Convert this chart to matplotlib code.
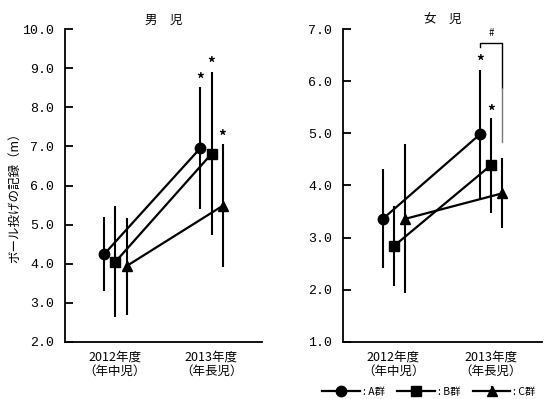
import matplotlib
matplotlib.use("Agg")
import matplotlib.pyplot as plt
import numpy as np

plt.rcParams['font.family'] = ['Noto Sans CJK JP', 'DejaVu Sans']

categories = ["2012年度\n（年中児）", "2013年度\n（年長児）"]
groups = ["A群", "B群", "C群"]
markers = ["o", "s", "^"]
offsets = [-0.11, 0.005, 0.12]

# boys (男児)
boys_mean = {"A群": [4.25, 6.96], "B群": [4.05, 6.81], "C群": [3.94, 5.48]}
boys_sd = {"A群": [0.95, 1.55], "B群": [1.42, 2.08], "C群": [1.24, 1.57]}
boys_star = {"A群": 8.70, "B群": 9.11, "C群": 7.24}

# girls (女児)
girls_mean = {"A群": [3.36, 4.98], "B群": [2.84, 4.39], "C群": [3.36, 3.85]}
girls_sd = {"A群": [0.95, 1.23], "B群": [0.76, 0.91], "C群": [1.43, 0.67]}
girls_star = {"A群": 6.36, "B群": 5.41}

W, H = 547, 399
fig = plt.figure(figsize=(W / 100, H / 100), dpi=100)
ax1 = fig.add_axes([65 / W, 1 - 342 / H, 197 / W, 313 / H])
ax2 = fig.add_axes([343 / W, 1 - 342 / H, 199 / W, 313 / H])

handles = []
def draw(ax, mean, sd, stars, ylim, title):
    x = np.arange(len(categories))
    for g, m, off in zip(groups, markers, offsets):
        xs = x + off
        ms = 7.5 if m == "o" else 7
        h = ax.errorbar(xs, mean[g], yerr=sd[g], fmt='-', marker=m, color='black',
                        lw=1.6, elinewidth=1.5, capsize=0, markersize=ms, zorder=3)
        handles.append(h)
        if g in stars:
            ax.text(xs[1], stars[g], "*", ha='center', va='center', fontsize=11,
                    fontweight='bold')
    ax.set_xlim(-0.52, 1.53)
    ax.set_ylim(*ylim)
    ticks = np.arange(ylim[0], ylim[1] + 0.01, 1.0)
    ax.set_yticks(ticks)
    ax.set_yticklabels([f"{v:.1f}" for v in ticks], family='Liberation Mono',
                       fontsize=9.5)
    ax.set_xticks(x)
    ax.set_xticklabels(categories, fontsize=9, linespacing=1.15)
    ax.tick_params(axis='x', length=0, pad=6)
    ax.tick_params(axis='y', direction='in', length=6, width=1.3, pad=8)
    for s in ['top', 'right']:
        ax.spines[s].set_visible(False)
    for s in ['left', 'bottom']:
        ax.spines[s].set_linewidth(1.3)
    ax.set_title(title, fontsize=9, pad=4)

draw(ax1, boys_mean, boys_sd, boys_star, (2.0, 10.0), "男　児")
draw(ax2, girls_mean, girls_sd, girls_star, (1.0, 7.0), "女　児")
ax1.set_ylabel("ボール投げの記録（m）", fontsize=9)
ax1.yaxis.set_label_coords(-0.225, 0.47)

# significance bracket (#) between A and C groups in 2013 for girls
xa, xc = 1 + offsets[0], 1 + offsets[2]
ax2.plot([xa, xa, xc, xc], [6.65, 6.73, 6.73, 5.87], color='black', lw=1.0,
         clip_on=False)
ax2.plot([xc, xc], [5.87, 4.83], color='#777777', lw=1.0)
ax2.text((xa + xc) / 2, 6.92, "#", ha='center', va='center', fontsize=7)

leg = fig.legend(handles[:3], [": " + g for g in groups], loc='center left',
                 bbox_to_anchor=(322 / W, 1 - 392 / H), ncol=3, frameon=False,
                 fontsize=7.5, handlelength=3.6, handletextpad=0.3,
                 columnspacing=1.2, borderpad=0, borderaxespad=0)

fig.savefig("out.png", dpi=100)
